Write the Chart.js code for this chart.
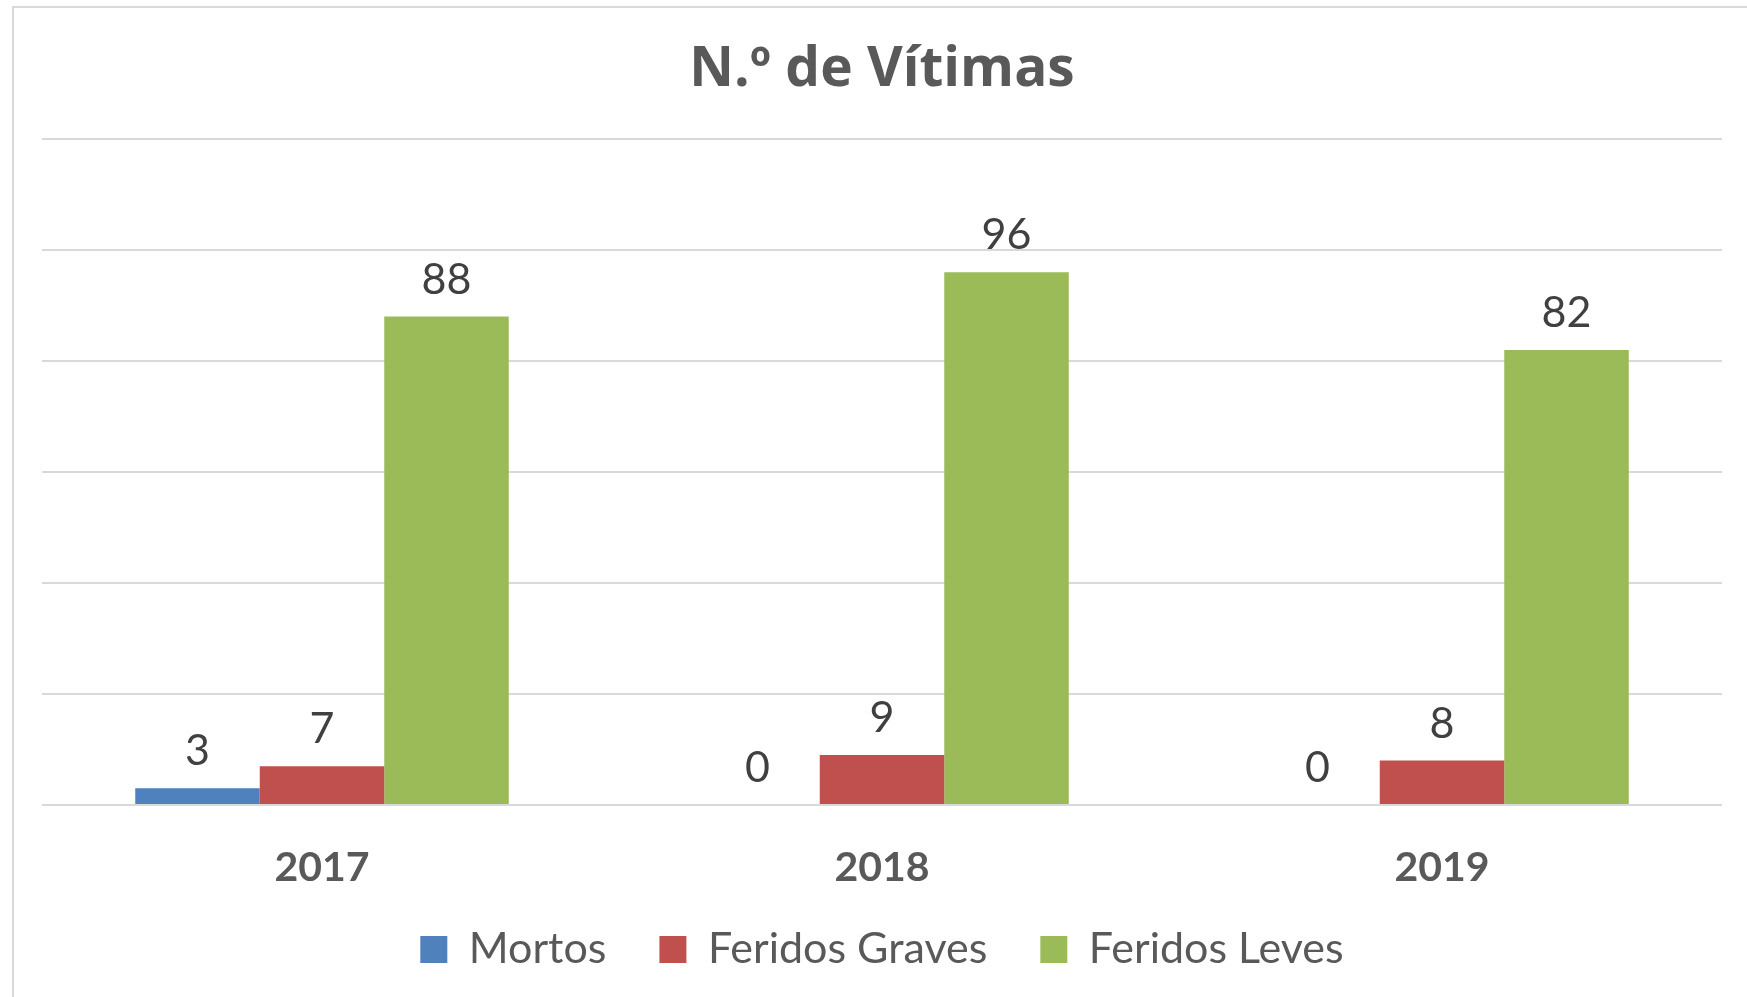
<!DOCTYPE html>
<html><head><meta charset="utf-8">
<script src="https://cdn.jsdelivr.net/npm/chart.js@4.4.0/dist/chart.umd.min.js"></script>
<style>
html,body{margin:0;padding:0;background:#fff;overflow:hidden;}
#wrap{position:relative;width:1747px;height:997px;overflow:hidden;}
#frame{position:absolute;left:12px;top:6px;width:1800px;height:1100px;border:2px solid #d9d9d9;box-sizing:border-box;}
#c{position:absolute;left:0;top:0;}
</style></head><body>
<div id="wrap"><div id="frame"></div><canvas id="c" width="1747" height="997"></canvas></div>
<script>
const categories = ['2017', '2018', '2019'];
const seriesNames = ['Mortos', 'Feridos Graves', 'Feridos Leves'];
const mortos = [3, 0, 0];
const feridosGraves = [7, 9, 8];
const feridosLeves = [88, 96, 82];
const yTicks = [0, 20, 40, 60, 80, 100, 120];
const seriesColors = ['#4F81BD', '#C0504D', '#9BBB59'];

const valueLabels = {
  id: 'valueLabels',
  afterDatasetsDraw(chart) {
    const ctx = chart.ctx;
    ctx.save();
    ctx.font = '43px Lato';
    ctx.fillStyle = '#404040';
    ctx.textAlign = 'center';
    ctx.textBaseline = 'alphabetic';
    chart.data.datasets.forEach((ds, i) => {
      const meta = chart.getDatasetMeta(i);
      meta.data.forEach((bar, j) => {
        ctx.fillText(String(ds.data[j]), bar.x, bar.y - 23);
      });
    });
    ctx.restore();
  }
};

// let the category labels overflow their compact box (avoid clipping)
const unclipX = {
  id: 'unclipX',
  afterLayout(chart) {
    const s = chart.scales.x;
    s.bottom += 80;
    s.height += 80;
  }
};

const seriesData = [mortos, feridosGraves, feridosLeves];
new Chart(document.getElementById('c'), {
  type: 'bar',
  data: {
    labels: categories,
    datasets: seriesNames.map((n, i) => ({
      label: n,
      data: seriesData[i],
      backgroundColor: seriesColors[i],
      borderWidth: 0,
      categoryPercentage: 0.667,
      barPercentage: 1.0
    }))
  },
  options: {
    responsive: false,
    animation: false,
    devicePixelRatio: 1,
    layout: { padding: { left: 42, right: 25, top: 0, bottom: 16 } },
    plugins: {
      title: {
        display: true,
        text: 'N.º de Vítimas',
        color: '#595959',
        font: { family: 'Open Sans', size: 55, weight: 'bold' },
        padding: { top: 37, bottom: 36 }
      },
      legend: {
        position: 'bottom',
        labels: {
          color: '#595959',
          font: { family: 'Lato', size: 43 },
          boxWidth: 27,
          boxHeight: 27,
          padding: 53
        }
      },
      tooltip: { enabled: false }
    },
    scales: {
      x: {
        grid: { display: false },
        border: { display: false },
        ticks: { color: '#595959', font: { family: 'Lato', size: 41, weight: 'bold' }, padding: 30 },
        afterFit(scale) { scale.height = 70; }
      },
      y: {
        min: yTicks[0],
        max: yTicks[yTicks.length - 1],
        ticks: { display: false, stepSize: yTicks[1] - yTicks[0] },
        grid: { color: '#d9d9d9', lineWidth: 2, drawTicks: false },
        border: { display: false }
      }
    }
  },
  plugins: [valueLabels, unclipX]
});
</script>
</body></html>
